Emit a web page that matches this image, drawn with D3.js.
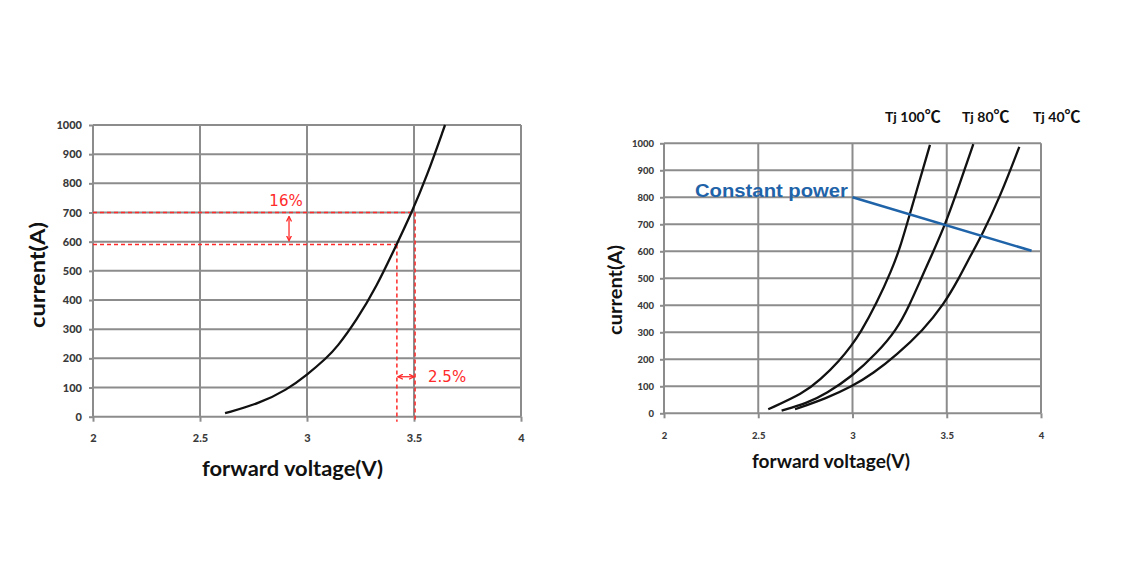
<html>
<head>
<meta charset="utf-8">
<style>
  body { margin: 0; background: #fff; }
  .tick text { font-family: Lato, "Liberation Sans", sans-serif; font-weight: 900; fill: #3a3a3a; }
  .title { font-family: Lato, "DejaVu Sans", sans-serif; font-weight: bold; fill: #111; }
</style>
<script src="https://d3js.org/d3.v7.min.js"></script>
</head>
<body>
<div id="chartContainer"></div>
<script type="text/javascript">
// shared ticks
var xTicks = [2, 2.5, 3, 3.5, 4];
var xTickLabels = ["2", "2.5", "3", "3.5", "4"];
var yTicks = [0, 100, 200, 300, 400, 500, 600, 700, 800, 900, 1000];

// left chart: one I-V curve
var leftV = [2.617, 2.78, 2.905, 3.0, 3.092, 3.138, 3.232, 3.325, 3.418, 3.489, 3.559, 3.645];
var leftI = [12, 46, 92, 143, 202, 236, 331, 446, 589, 700, 822, 1000];
// red annotations (volts / amps)
var markV = [3.42, 3.505];
var markI = [590, 700];
var arrowV = 2.916;
var arrowI = 137;
var pctLabels = ["16%", "2.5%"];

// right chart: three junction temperatures
var tjNames = ["Tj 100", "Tj 80", "Tj 40"];
var tj100V = [2.553, 2.739, 2.828, 2.934, 2.996, 3.040, 3.128, 3.208, 3.252, 3.305, 3.411];
var tj100I = [15, 74, 123, 197, 253, 296, 407, 531, 612, 740, 994];
var tj80V = [2.624, 2.757, 2.863, 2.996, 3.128, 3.234, 3.30, 3.365, 3.42, 3.491, 3.570, 3.641];
var tj80I = [10, 37, 74, 136, 222, 309, 397, 500, 586, 697, 852, 997];
var tj40V = [2.695, 2.863, 2.996, 3.110, 3.234, 3.376, 3.482, 3.565, 3.623, 3.685, 3.783, 3.885];
var tj40I = [15, 56, 99, 148, 216, 309, 401, 500, 580, 658, 802, 987];
var powerV = [3.0, 3.95];
var powerI = [800, 602];

var svg = d3.select("#chartContainer").append("svg")
  .attr("width", 1140).attr("height", 570);

svg.append("defs").append("marker")
  .attr("id", "arr")
  .attr("viewBox", "0 0 6 6")
  .attr("refX", 5).attr("refY", 3)
  .attr("markerWidth", 6).attr("markerHeight", 6)
  .attr("markerUnits", "userSpaceOnUse")
  .attr("orient", "auto-start-reverse")
  .append("path")
    .attr("d", "M0,0.5 L5,3 L0,5.5")
    .attr("fill", "none")
    .attr("stroke", "#ff2a2a")
    .attr("stroke-width", 1.3);

// grid + axes for one panel
function panel(x, y, fs, padY, padX) {
  var g = svg.append("g");
  g.selectAll(".hg").data(yTicks).enter().append("line")
    .attr("x1", x.range()[0]).attr("x2", x.range()[1])
    .attr("y1", y).attr("y2", y)
    .attr("stroke", "#8c8c8c").attr("stroke-width", 2);
  g.selectAll(".vg").data(xTicks).enter().append("line")
    .attr("x1", x).attr("x2", x)
    .attr("y1", y.range()[0]).attr("y2", y.range()[1])
    .attr("stroke", "#8c8c8c").attr("stroke-width", 2);

  var ax = g.append("g").attr("transform", "translate(" + x(2) + ",0)")
    .call(d3.axisLeft(y).tickValues(yTicks).tickSize(4).tickPadding(padY)
      .tickFormat(d3.format("d")));
  var bx = g.append("g").attr("transform", "translate(0," + y(0) + ")")
    .call(d3.axisBottom(x).tickValues(xTicks).tickSize(5).tickPadding(padX)
      .tickFormat(function (d, i) { return xTickLabels[i]; }));
  [ax, bx].forEach(function (a) {
    a.select(".domain").remove();
    a.selectAll(".tick line").attr("stroke", "#8c8c8c").attr("stroke-width", 2);
    a.selectAll(".tick text").style("font-size", fs + "px");
  });
  return g;
}

var line = function (x, y) {
  return d3.line()
    .x(function (d) { return x(d[0]); })
    .y(function (d) { return y(d[1]); })
    .curve(d3.curveBasis);
};

// ---------- left ----------
var xL = d3.scaleLinear().domain([2, 4]).range([93, 521]);
var yL = d3.scaleLinear().domain([0, 1000]).range([416.7, 125]);
panel(xL, yL, 11, 7, 13);

// red dashed guides
var red = "#ff2a2a";
var gl = svg.append("g");
markV.forEach(function (v, i) {
  gl.append("line")
    .attr("x1", xL(2)).attr("x2", xL(v))
    .attr("y1", yL(markI[i])).attr("y2", yL(markI[i]))
    .attr("stroke", red).attr("stroke-width", 1.5).attr("stroke-dasharray", "4,3");
  gl.append("line")
    .attr("x1", xL(v)).attr("x2", xL(v))
    .attr("y1", yL(markI[i])).attr("y2", yL(0) + 5)
    .attr("stroke", red).attr("stroke-width", 1.5).attr("stroke-dasharray", "4,3");
});
gl.append("line")
  .attr("x1", xL(arrowV)).attr("x2", xL(arrowV))
  .attr("y1", yL(markI[1]) + 4).attr("y2", yL(markI[0]) - 4)
  .attr("stroke", red).attr("stroke-width", 1.3)
  .attr("marker-start", "url(#arr)").attr("marker-end", "url(#arr)");
gl.append("line")
  .attr("x1", xL(markV[0]) + 1).attr("x2", xL(markV[1]) - 1)
  .attr("y1", yL(arrowI)).attr("y2", yL(arrowI))
  .attr("stroke", red).attr("stroke-width", 1.3)
  .attr("marker-start", "url(#arr)").attr("marker-end", "url(#arr)");
gl.append("text")
  .attr("x", xL(arrowV) - 3).attr("y", yL(markI[1]) - 7)
  .attr("text-anchor", "middle")
  .style("font-family", "DejaVu Sans").style("font-size", "15px").style("fill", red)
  .text(pctLabels[0]);
gl.append("text")
  .attr("x", xL(markV[1]) + 13).attr("y", yL(arrowI) + 5)
  .style("font-family", "DejaVu Sans").style("font-size", "15px").style("fill", red)
  .text(pctLabels[1]);

svg.append("path")
  .datum(d3.zip(leftV, leftI))
  .attr("d", line(xL, yL))
  .attr("fill", "none").attr("stroke", "#111").attr("stroke-width", 2.3);

svg.append("text").attr("class", "title")
  .attr("x", 202).attr("y", 476)
  .attr("textLength", 181).attr("lengthAdjust", "spacingAndGlyphs")
  .style("font-size", "21px").text("forward voltage(V)");
svg.append("text").attr("class", "title")
  .attr("transform", "translate(45,328) rotate(-90)")
  .attr("textLength", 106).attr("lengthAdjust", "spacingAndGlyphs")
  .style("font-size", "21px").text("current(A)");

// ---------- right ----------
var xR = d3.scaleLinear().domain([2, 4]).range([664, 1041]);
var yR = d3.scaleLinear().domain([0, 1000]).range([413.3, 143.3]);
panel(xR, yR, 9.5, 6, 14);

[[tj100V, tj100I], [tj80V, tj80I], [tj40V, tj40I]].forEach(function (s) {
  svg.append("path")
    .datum(d3.zip(s[0], s[1]))
    .attr("d", line(xR, yR))
    .attr("fill", "none").attr("stroke", "#111").attr("stroke-width", 2.3);
});

var blue = "#1f63a8";
svg.append("path")
  .datum(d3.zip(powerV, powerI))
  .attr("d", d3.line().x(function (d) { return xR(d[0]); }).y(function (d) { return yR(d[1]); }))
  .attr("fill", "none").attr("stroke", blue).attr("stroke-width", 2.5);
svg.append("text")
  .attr("x", 695).attr("y", 197)
  .attr("textLength", 153).attr("lengthAdjust", "spacingAndGlyphs")
  .style("font-family", "Liberation Sans, Arial, sans-serif").style("font-weight", "bold")
  .style("font-size", "19px").style("fill", blue)
  .text("Constant power");

var tjX = [885, 962, 1033];
var tj = svg.selectAll(".tj").data(tjNames).enter().append("text")
  .attr("class", "title")
  .attr("x", function (d, i) { return tjX[i]; })
  .attr("y", 122)
  .style("font-size", "14px");
tj.append("tspan").text(function (d) { return d; });
tj.append("tspan")
  .style("font-family", "Noto Sans CJK SC").style("font-weight", "bold")
  .style("font-size", "16px")
  .text("\u2103");

svg.append("text").attr("class", "title")
  .attr("x", 752).attr("y", 468)
  .attr("textLength", 158).attr("lengthAdjust", "spacingAndGlyphs")
  .style("font-size", "19px").text("forward voltage(V)");
svg.append("text").attr("class", "title")
  .attr("transform", "translate(622,335) rotate(-90)")
  .attr("textLength", 90).attr("lengthAdjust", "spacingAndGlyphs")
  .style("font-size", "19px").text("current(A)");
</script>
</body>
</html>
